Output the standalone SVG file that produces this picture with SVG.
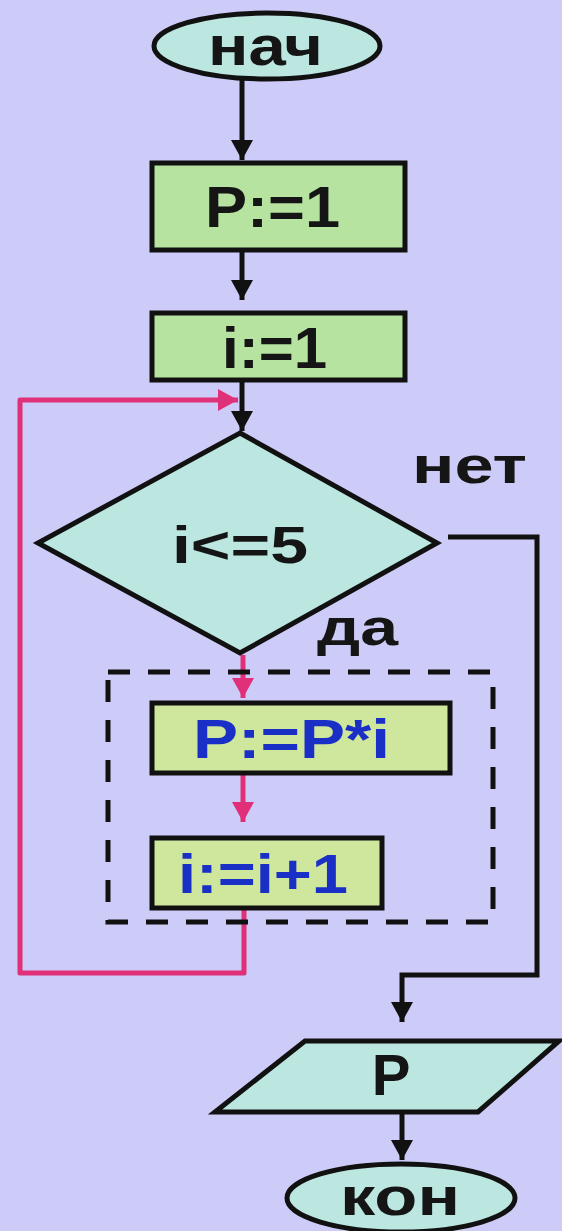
<svg xmlns="http://www.w3.org/2000/svg" width="562" height="1231" viewBox="0 0 562 1231">
<defs>
<style>
.bg{fill:#cdcbf7}
.term{fill:#bce6e0;stroke:#111;stroke-width:5}
.proc{fill:#b6e39f;stroke:#111;stroke-width:5}
.body{fill:#cfe69d;stroke:#111;stroke-width:5}
.t{font-family:"Liberation Sans",Arial,sans-serif;font-weight:bold;fill:#151515}
.tb{font-family:"Liberation Sans",Arial,sans-serif;font-weight:bold;fill:#1a2fc6}
.cb{fill:none;stroke:#111;stroke-width:5}
.cp{fill:none;stroke:#e0307a;stroke-width:5;stroke-linejoin:round}
.dash{fill:none;stroke:#111;stroke-width:5;stroke-dasharray:22 18}
</style>
<marker id="ab" markerUnits="userSpaceOnUse" markerWidth="24" markerHeight="24" viewBox="0 0 24 24" refX="20" refY="12" orient="auto">
<path d="M0,1 L20,12 L0,23 Z" fill="#111"/>
</marker>
<marker id="ap" markerUnits="userSpaceOnUse" markerWidth="24" markerHeight="24" viewBox="0 0 24 24" refX="20" refY="12" orient="auto">
<path d="M0,1 L20,12 L0,23 Z" fill="#e0307a"/>
</marker>
</defs>
<rect class="bg" x="0" y="0" width="562" height="1231"/>

<g id="connectors">
<path class="cb" d="M242,79 V160" marker-end="url(#ab)"/>
<path class="cb" d="M242,250 V300" marker-end="url(#ab)"/>
<path class="cb" d="M242,380 V431" marker-end="url(#ab)"/>
<path class="cp" d="M243,655 V698" marker-end="url(#ap)"/>
<path class="cp" d="M243,773 V822" marker-end="url(#ap)"/>
<path class="cp" d="M244,908 V973 H20 V400 H238" marker-end="url(#ap)"/>
<path class="cb" d="M448,537 H537 V975 H402 V1022" marker-end="url(#ab)"/>
<path class="cb" d="M402,1112 V1160" marker-end="url(#ab)"/>
<text class="t" x="412" y="483" font-size="52" textLength="115" lengthAdjust="spacingAndGlyphs">нет</text>
<text class="t" x="317" y="645" font-size="52" textLength="81" lengthAdjust="spacingAndGlyphs">да</text>
</g>

<g id="loop-body">
<rect class="dash" x="108" y="672" width="385" height="250"/>
</g>

<g id="start">
<ellipse class="term" cx="267" cy="46" rx="113" ry="33"/>
<text class="t" x="208" y="65" font-size="56" textLength="115" lengthAdjust="spacingAndGlyphs">нач</text>
</g>

<g id="p-init">
<rect class="proc" x="152" y="163" width="253" height="87"/>
<text class="t" x="205" y="227" font-size="58" textLength="135" lengthAdjust="spacingAndGlyphs">P:=1</text>
</g>

<g id="i-init">
<rect class="proc" x="152" y="313" width="253" height="67"/>
<text class="t" x="222" y="368" font-size="58" textLength="105" lengthAdjust="spacingAndGlyphs">i:=1</text>
</g>

<g id="cond">
<polygon class="term" points="240,433 437,543 240,653 38,543"/>
<text class="t" x="172" y="563" font-size="52" textLength="136" lengthAdjust="spacingAndGlyphs">i&lt;=5</text>
</g>

<g id="p-mul">
<rect class="body" x="152" y="703" width="298" height="70"/>
<text class="tb" x="193" y="758" font-size="56" textLength="197" lengthAdjust="spacingAndGlyphs">P:=P*i</text>
</g>

<g id="i-inc">
<rect class="body" x="152" y="838" width="230" height="70"/>
<text class="tb" x="178" y="893" font-size="56" textLength="170" lengthAdjust="spacingAndGlyphs">i:=i+1</text>
</g>

<g id="output">
<polygon class="term" points="305,1041 559,1041 478,1112 215,1112"/>
<text class="t" x="391" y="1095" font-size="58" text-anchor="middle">P</text>
</g>

<g id="end">
<ellipse class="term" cx="401" cy="1198" rx="114" ry="34"/>
<text class="t" x="340" y="1215" font-size="54" textLength="120" lengthAdjust="spacingAndGlyphs">кон</text>
</g>
</svg>
